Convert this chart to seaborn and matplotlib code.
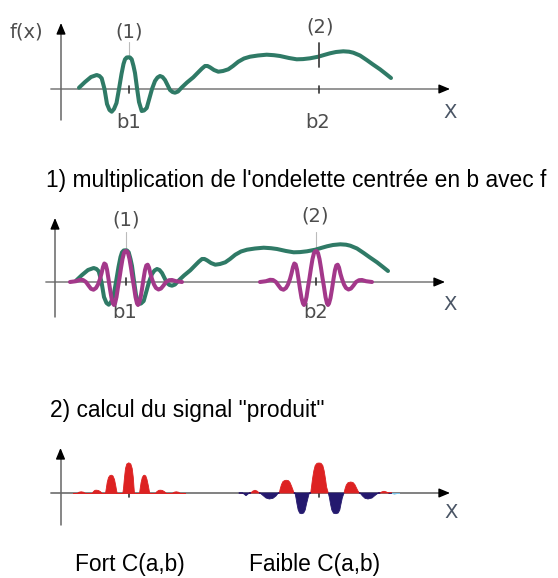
import numpy as np
import matplotlib
matplotlib.use("Agg")
import matplotlib.pyplot as plt
import seaborn as sns

# --- data (x: pixels from b1, y: pixels above the x axis) ---
B2 = 190

# signal f(x)
f_x = [-50, -44, -38, -32.3, -29.5, -27.3, -24.5, -22, -19.5, -17.3, -15, -12.5, -10, -7.5,
       -5.5, -4, -2.3, -0.7, 1, 2.7, 4.5, 6, 8, 10, 12.7, 15, 17.7, 20.5, 23, 26, 28.5, 31,
       33.5, 36, 38.5, 41, 43.5, 46, 49, 52.7, 58, 64.3, 70, 73, 76, 78.5, 81, 85, 89.3, 94,
       99.3, 104, 109.3, 115, 121, 129, 137.7, 145, 151, 160, 167.7, 174, 181, 189.3, 195,
       201, 207, 214.3, 220, 224.3, 231, 237.7, 244, 251, 257, 262]
f_y = [1.3, 7, 12, 14, 13, 10.7, 0, -15, -21, -22.7, -20, -14, 0, 15,
       25, 29.7, 31.5, 31.7, 31.5, 29.7, 23, 16, 1, -13, -22, -21.5, -19, -9, 0, 8, 11.5, 13,
       12, 9, 4, -1, -3, -3.7, -2.5, 1.5, 6.5, 11.7, 17.5, 20.5, 23, 23, 21.7, 19, 17.3, 18,
       19.7, 23, 27.3, 30.5, 32.3, 33.5, 34.3, 33.8, 33, 31, 29.7, 29.9, 30.7, 32.3, 34,
       35.7, 37, 37.7, 37.3, 36.3, 33.5, 29, 24.5, 19.7, 15, 11]

# wavelet centred on b
psi_x = [-56, -50, -46, -43, -40, -37.5, -35, -32.5, -30, -28, -26, -24.5, -23, -21.7, -20.3,
         -19, -17.5, -16, -14.5, -13, -12, -11, -9.5, -8, -6.5, -5, -3.5, -2, -1, 0,
         1, 2, 3.5, 5, 6.5, 8, 9.5, 11, 12, 13, 14.5, 16, 17.5, 19, 20.3, 21.7, 23, 24.5,
         26, 28, 30, 32.5, 35, 37.5, 40, 43, 46, 50, 56]
psi_y = [0, 0.8, 2.2, 2, 0, -3.5, -6.8, -7.7, -6, -2.5, 3, 8.5, 15, 18.5, 17.5,
         12.5, 3, -7, -16, -21.5, -23, -21.5, -15, -5, 4, 14, 23, 29, 30.5, 31,
         30.5, 29, 23, 14, 4, -5, -15, -21.5, -23, -21.5, -16, -7, 3, 12, 16.5, 17.3, 14.5, 8,
         3, -2.5, -6, -7.5, -6.5, -3.5, 0, 1.8, 2, 0.8, 0]

# product f * psi around b1 (all positive)
p1_x = [-56, -52.3, -50.5, -48.3, -46, -44,
        -37.3, -36, -34.5, -33, -31, -29, -27.3,
        -24, -23.2, -22.3, -21, -19.5, -18, -16.5, -15, -13.8, -12.9, -12.3,
        -6.7, -6, -5, -4, -2.7, -0.7, 1.3, 2.7, 3.8, 4.5, 5,
        10, 10.7, 11.6, 12.8, 14, 15, 16.3, 17.5, 18.8, 19.7, 20.3,
        26, 27.5, 29.5, 31.3, 33, 35, 37,
        42.7, 44.7, 46.7, 49, 51, 56]
p1_y = [0, 0, 1.3, 1.7, 1.3, 0,
        0, 2, 3.2, 3.3, 3, 1.8, 0,
        0, 5, 11, 16, 18, 18.3, 17.5, 14, 8, 3, 0,
        0, 5, 16, 25, 29.5, 30.7, 29.5, 25, 16, 6, 0,
        0, 5, 11, 16, 18, 18.3, 17.5, 14, 8, 3, 0,
        0, 2, 3.2, 3.3, 3, 1.8, 0,
        0, 1.3, 1.7, 1.3, 0, 0]

# product f * psi around b2 (changes sign)
p2_x = [-80, -76.3, -73, -69.7, -68.3, -66, -64, -62, -59.7,
        -59, -56, -53, -49.7, -46, -43, -40.7,
        -39.7, -38.8, -37.5, -36, -34, -32.3, -30.5, -29, -27.5, -26, -25,
        -24, -23, -22, -20.8, -19.3, -17.3, -15.3, -13.8, -12.5, -11, -9.7,
        -8.3, -7.5, -6.5, -5.2, -3.8, -2, 0, 2, 3.8, 5.2, 6.5, 7.6, 9.3,
        10.5, 11.5, 12.8, 14.5, 17, 19.2, 20.8, 22, 23.3, 25,
        26, 27.3, 29, 31.7, 34, 35.8, 37.5, 39, 40.3,
        41, 43.5, 46, 49, 53, 56, 59.3,
        61, 63, 65, 67, 69.3,
        72.7, 75, 77.7, 80]
p2_y = [0, 0, -2.7, 0, 0, 2, 2.7, 2, 0,
        0, -2.5, -5, -6, -5.3, -3, 0,
        0, 4, 8.5, 11.5, 12.6, 12.7, 12.3, 10.5, 7, 3, 0,
        0, -5, -11, -17, -20.2, -20.7, -20, -17, -11, -5, 0,
        0, 6, 14, 22, 27.5, 29.7, 30, 29.7, 27.5, 22, 14, 6, 0,
        -5, -11, -17, -20.2, -20.7, -20, -17, -11, -5, 0,
        4, 8, 10.3, 11, 10.5, 8.5, 5, 2, 0,
        0, -3, -5.3, -6, -5, -2.5, 0,
        0, 1.2, 1.7, 1.2, 0,
        0, -0.7, 0, 0]

GREEN = "#2f7a66"
MAGENTA = "#a3388a"
RED = "#dd2222"
NAVY = "#24196e"
GREY = "#8c8c8c"
LABEL = "#4d4d4d"

W, H = 558, 578
sns.set_theme(style="white")
plt.rcParams["font.family"] = ["DejaVu Sans"]

fig = plt.figure(figsize=(W / 100, H / 100), dpi=100)


def panel(top, bottom, axis_y, b1_x):
    ax = fig.add_axes([0, 1 - bottom / H, 1, (bottom - top) / H])
    ax.set_xlim(-b1_x, W - b1_x)
    ax.set_ylim(axis_y - bottom, axis_y - top)
    ax.axis("off")
    return ax


def axes_arrows(ax, yx, ylo, yhi, xlo, xhi, xcol=GREY):
    ax.plot([xlo, xhi - 4], [0, 0], color=xcol, lw=1.3, zorder=1)
    ax.plot([yx, yx], [ylo, yhi - 4], color="#666666", lw=1.1, zorder=1)
    style = "-|>,head_length=0.6,head_width=0.25"
    ax.annotate("", xy=(xhi, 0), xytext=(xhi - 8, 0),
                arrowprops=dict(arrowstyle=style, color="black", lw=1, shrinkA=0, shrinkB=0,
                                mutation_scale=11))
    ax.annotate("", xy=(yx, yhi), xytext=(yx, yhi - 8),
                arrowprops=dict(arrowstyle=style, color="black", lw=1, shrinkA=0, shrinkB=0,
                                mutation_scale=11))


lab = dict(fontsize=14, color=LABEL, ha="center", va="center")
xlab = dict(fontsize=14, color="#4a5565", ha="center", va="center")
LW = 2.9

# ---- panel 1 : f(x) ----
ax1 = panel(0, 150, 89, 129)
axes_arrows(ax1, -68, -31, 66, -78, 321)
for b in (0, B2):
    ax1.plot([b, b], [3, -3.7], color="#333333", lw=1.2, zorder=2)
sns.lineplot(x=f_x, y=f_y, ax=ax1, color=GREEN, lw=LW, sort=False, estimator=None, zorder=3)
ax1.plot([0, 0], [47, 32.5], color="#bbbbbb", lw=0.8, zorder=2)
ax1.plot([B2, B2], [46, 22], color="#444444", lw=1.3, zorder=4)
ax1.text(-103, 57, "f(x)", **lab)
ax1.text(0, 57.3, "(1)", **lab)
ax1.text(191, 62.3, "(2)", **lab)
ax1.text(0, -33.5, "b1", **lab)
ax1.text(189, -33.5, "b2", **lab)
ax1.text(321, -24, "X", **xlab)

# ---- panel 2 : wavelet over f ----
ax2 = panel(195, 340, 282, 126)
axes_arrows(ax2, -71, -35, 64, -80, 319)
for b in (0, B2):
    ax2.plot([b, b], [4, -3], color="#333333", lw=1.2, zorder=2)
    ax2.plot([b, b], [50, 32], color="#bbbbbb", lw=0.8, zorder=2)
sns.lineplot(x=f_x, y=f_y, ax=ax2, color=GREEN, lw=LW, sort=False, estimator=None, zorder=3)
for b in (0, B2):
    sns.lineplot(x=np.array(psi_x) + b, y=psi_y, ax=ax2, color=MAGENTA, lw=LW, sort=False,
                 estimator=None, zorder=4)
ax2.text(0, 62, "(1)", **lab)
ax2.text(189, 66, "(2)", **lab)
ax2.text(-1, -31, "b1", **lab)
ax2.text(190, -31, "b2", **lab)
ax2.text(324, -23, "X", **xlab)

# ---- panel 3 : product signal ----
ax3 = panel(430, 540, 493, 129)
axes_arrows(ax3, -68.5, -32, 45, -78, 321, xcol="#777777")
for b in (0, B2):
    ax3.plot([b, b], [0, -4], color="#333333", lw=1.2, zorder=2)
p1x, p1y = np.array(p1_x), np.array(p1_y)
ax3.fill_between(p1x, p1y, 0, where=p1y >= 0, color=RED, lw=0.6, ec=RED, zorder=3)
p2x, p2y = np.array(p2_x) + B2, np.array(p2_y)
ax3.fill_between(p2x, p2y, 0, where=p2y >= 0, interpolate=True, color=RED, lw=0.6, ec=RED,
                 zorder=3)
ax3.fill_between(p2x, p2y, 0, where=(p2y <= 0) & (p2x < B2 + 71), interpolate=True,
                 color=NAVY, lw=0.6, ec=NAVY, zorder=3)
ax3.fill_between(p2x, p2y, 0, where=(p2y <= 0) & (p2x > B2 + 71), interpolate=True,
                 color="#7cc3e6", lw=0.6, ec="#7cc3e6", zorder=3)
ax3.text(322, -20, "X", **xlab)

# ---- captions ----
cap = dict(fontsize=16.4, color="black", family=["Liberation Sans", "DejaVu Sans"],
           ha="left", va="center")
fig.text(46 / W, 1 - 180 / H, "1) multiplication de l'ondelette centrée en b avec f", **cap)
fig.text(50 / W, 1 - 410 / H, '2) calcul du signal "produit"', **cap)
fig.text(75 / W, 1 - 565 / H, "Fort C(a,b)", **cap)
fig.text(249 / W, 1 - 565 / H, "Faible C(a,b)", **cap)

fig.savefig("out.png", dpi=100)
